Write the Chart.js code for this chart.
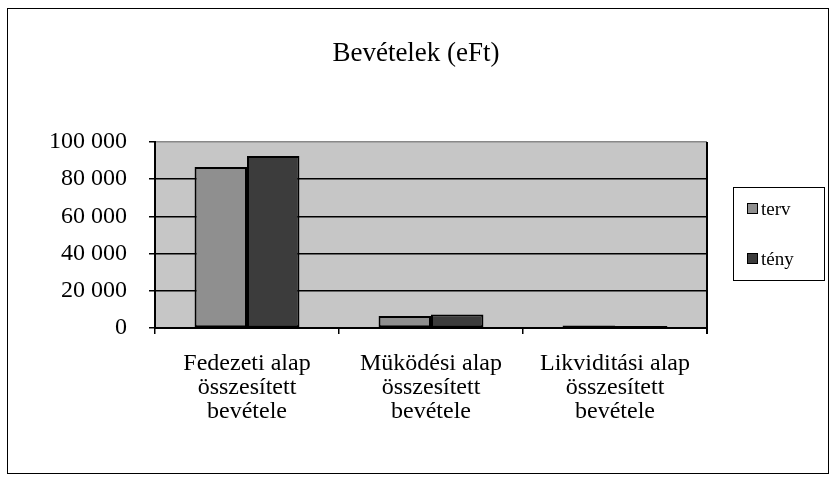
<!DOCTYPE html>
<html>
<head>
<meta charset="utf-8">
<script src="https://cdn.jsdelivr.net/npm/chart.js@4"></script>
<style>
  body { margin: 0; background: #fff; }
  canvas { display: block; }
</style>
</head>
<body>
<canvas id="chart" width="832" height="480"></canvas>
<script>
// Data
const categories = [
    ["Fedezeti alap", "összesített", "bevétele"],
    ["Müködési alap", "összesített", "bevétele"],
    ["Likviditási alap", "összesített", "bevétele"]
];
const seriesNames = ["terv", "tény"];
const tervValues = [86500, 6500, 1300];
const tenyValues = [92500, 7200, 1100];
const yTicks = [0, 20000, 40000, 60000, 80000, 100000];
const chartTitle = "Bevételek (eFt)";

const serif = "'Liberation Serif', 'Times New Roman', serif";
const barColors = ["#8f8f8f", "#3c3c3c"];

// thousands with a space, like "100 000"
function formatNumber(v) {
    return String(v).replace(/\B(?=(\d{3})+(?!\d))/g, " ");
}

// Plot background, frame, title and right edge
const framePlugin = {
    id: "frame",
    beforeDraw(chart) {
        const ctx = chart.ctx;
        const a = chart.chartArea;
        ctx.save();
        ctx.fillStyle = "#fff";
        ctx.fillRect(0, 0, chart.width, chart.height);
        ctx.fillStyle = "#c6c6c6";
        ctx.fillRect(a.left, a.top, a.right - a.left, a.bottom - a.top);
        ctx.restore();
    },
    afterDraw(chart) {
        const ctx = chart.ctx;
        const a = chart.chartArea;
        ctx.save();
        // outer border
        ctx.strokeStyle = "#000";
        ctx.lineWidth = 1;
        ctx.strokeRect(7.5, 8.5, 821, 465);
        // right edge of the plot
        ctx.lineWidth = 2;
        ctx.beginPath();
        ctx.moveTo(a.right, a.top);
        ctx.lineTo(a.right, a.bottom + 6);
        ctx.stroke();
        // title, centred on the whole picture
        ctx.fillStyle = "#000";
        ctx.font = "27px " + serif;
        ctx.textAlign = "center";
        ctx.textBaseline = "middle";
        ctx.fillText(chartTitle, chart.width / 2, 54);
        ctx.restore();
    }
};

// Legend with a box, drawn from the dataset list
const legendPlugin = {
    id: "boxLegend",
    afterDraw(chart) {
        const ctx = chart.ctx;
        ctx.save();
        ctx.fillStyle = "#fff";
        ctx.fillRect(733, 187, 91, 93);
        ctx.strokeStyle = "#000";
        ctx.lineWidth = 1;
        ctx.strokeRect(733.5, 187.5, 91, 93);
        ctx.font = "19px " + serif;
        ctx.textBaseline = "middle";
        chart.data.datasets.forEach((ds, i) => {
            const y = 209 + i * 50;
            ctx.fillStyle = ds.backgroundColor;
            ctx.fillRect(747, y - 6, 11, 11);
            ctx.strokeStyle = "#000";
            ctx.strokeRect(747.5, y - 5.5, 10, 10);
            ctx.fillStyle = "#000";
            ctx.fillText(ds.label, 761, y + 1);
        });
        ctx.restore();
    }
};

new Chart(document.getElementById("chart"), {
    type: "bar",
    data: {
        labels: categories,
        datasets: [
            {
                label: seriesNames[0],
                data: tervValues,
                backgroundColor: barColors[0],
                borderColor: "#000",
                borderWidth: 2,
                borderSkipped: false
            },
            {
                label: seriesNames[1],
                data: tenyValues,
                backgroundColor: barColors[1],
                borderColor: "#000",
                borderWidth: 2,
                borderSkipped: false
            }
        ]
    },
    options: {
        responsive: false,
        animation: false,
        layout: { padding: { left: 20, right: 125, top: 142, bottom: 0 } },
        datasets: { bar: { categoryPercentage: 0.57, barPercentage: 1.0 } },
        plugins: {
            legend: { display: false },
            tooltip: { enabled: false },
            title: { display: false }
        },
        scales: {
            x: {
                offset: true,
                grid: {
                    offset: true,
                    drawOnChartArea: false,
                    drawTicks: true,
                    tickLength: 6,
                    color: "#000",
                    lineWidth: 1.5
                },
                border: { display: true, color: "#000", width: 2 },
                ticks: {
                    color: "#000",
                    padding: 17,
                    maxRotation: 0,
                    autoSkip: false,
                    font: { family: serif, size: 24, lineHeight: 1.02 }
                },
                afterFit(scale) { scale.height = 152; }
            },
            y: {
                min: 0,
                max: 100000,
                afterBuildTicks(scale) {
                    scale.ticks = yTicks.map(v => ({ value: v }));
                },
                grid: {
                    color: ctx => (ctx.tick && ctx.tick.value === 100000 ? "#888" : "#000"),
                    lineWidth: 1.5,
                    tickLength: 6,
                    tickColor: "#000"
                },
                border: { display: true, color: "#000", width: 2 },
                ticks: {
                    color: "#000",
                    padding: 22,
                    font: { family: serif, size: 24 },
                    callback: v => formatNumber(v)
                },
                afterFit(scale) { scale.width = 135; }
            }
        }
    },
    plugins: [framePlugin, legendPlugin]
});
</script>
</body>
</html>
